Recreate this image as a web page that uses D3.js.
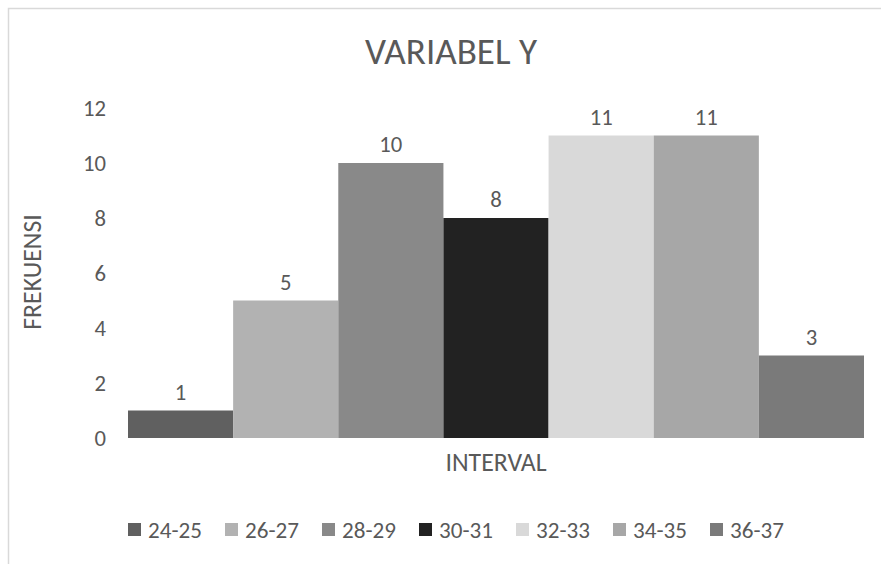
<!DOCTYPE html>
<html>
<head>
<meta charset="utf-8">
<script src="https://cdn.jsdelivr.net/npm/d3@7"></script>
<style>
  html, body { margin: 0; padding: 0; background: #fff; }
  svg { display: block; }
  text { font-family: Carlito, Lato, "Open Sans", sans-serif; fill: #595959; }
</style>
</head>
<body>
<svg id="chart" width="881" height="564"></svg>
<script>
const title = "VARIABEL Y";
const xTitle = "INTERVAL";
const yTitle = "FREKUENSI";
const series = ["24-25", "26-27", "28-29", "30-31", "32-33", "34-35", "36-37"];
const values = [1, 5, 10, 8, 11, 11, 3];
const colors = ["#606060", "#b2b2b2", "#898989", "#222222", "#d9d9d9", "#a7a7a7", "#7a7a7a"];
const yTicks = [0, 2, 4, 6, 8, 10, 12];

const svg = d3.select("#chart");
const plot = { left: 128, right: 864, top: 108, bottom: 438 };

// pick a font size so a sample string has the wanted width in the installed font
function fitSize(sample, targetWidth) {
  const t = svg.append("text").style("font-size", "100px").text(sample);
  const w = t.node().getComputedTextLength();
  t.remove();
  return Math.round(100 * targetWidth / w * 10) / 10;
}
const titleSize = fitSize(title, 172);
const tickSize = fitSize("12", 23);
const labelSize = tickSize;
const axisTitleSize = fitSize(xTitle, 101);
const legendSize = fitSize("24-25", 54);

// chart border
svg.append("rect")
  .attr("x", 8.5).attr("y", 8.5)
  .attr("width", 900).attr("height", 600)
  .attr("fill", "none").attr("stroke", "#d9d9d9").attr("stroke-width", 1.5);

const x = d3.scaleBand().domain(series).range([plot.left, plot.right]).padding(0);
const y = d3.scaleLinear().domain([0, 12]).range([plot.bottom, plot.top]);

// title
svg.append("text")
  .attr("x", 451).attr("y", 64)
  .attr("text-anchor", "middle")
  .style("font-size", titleSize + "px")
  .text(title);

// y axis (labels only)
const yAxis = d3.axisLeft(y).tickValues(yTicks).tickSize(0).tickPadding(0);
const gy = svg.append("g").attr("transform", `translate(${plot.left - 22},0)`).call(yAxis);
gy.select(".domain").remove();
gy.attr("font-family", null).attr("font-size", null);
gy.selectAll("text").style("font-size", tickSize + "px").attr("fill", null).attr("dy", "0.34em");

// y title
svg.append("text")
  .attr("transform", `translate(41,272) rotate(-90)`)
  .attr("text-anchor", "middle")
  .style("font-size", axisTitleSize + "px")
  .text(yTitle);

// bars
svg.append("g").selectAll("rect").data(series).join("rect")
  .attr("x", d => x(d))
  .attr("y", (d, i) => y(values[i]))
  .attr("width", x.bandwidth())
  .attr("height", (d, i) => y(0) - y(values[i]))
  .attr("fill", (d, i) => colors[i]);

// data labels
svg.append("g").selectAll("text").data(series).join("text")
  .attr("x", d => x(d) + x.bandwidth() / 2)
  .attr("y", (d, i) => y(values[i]) - 11)
  .attr("text-anchor", "middle")
  .style("font-size", labelSize + "px")
  .text((d, i) => values[i]);

// x title
svg.append("text")
  .attr("x", (plot.left + plot.right) / 2).attr("y", 471)
  .attr("text-anchor", "middle")
  .style("font-size", axisTitleSize + "px")
  .text(xTitle);

// legend
const legend = svg.append("g").attr("transform", "translate(128,530)");
const item = legend.selectAll("g").data(series).join("g")
  .attr("transform", (d, i) => `translate(${i * 97},0)`);
item.append("rect")
  .attr("x", 0).attr("y", -7).attr("width", 13).attr("height", 13)
  .attr("fill", (d, i) => colors[i]);
item.append("text")
  .attr("x", 20).attr("y", 8)
  .style("font-size", legendSize + "px")
  .text(d => d);
</script>
</body>
</html>
